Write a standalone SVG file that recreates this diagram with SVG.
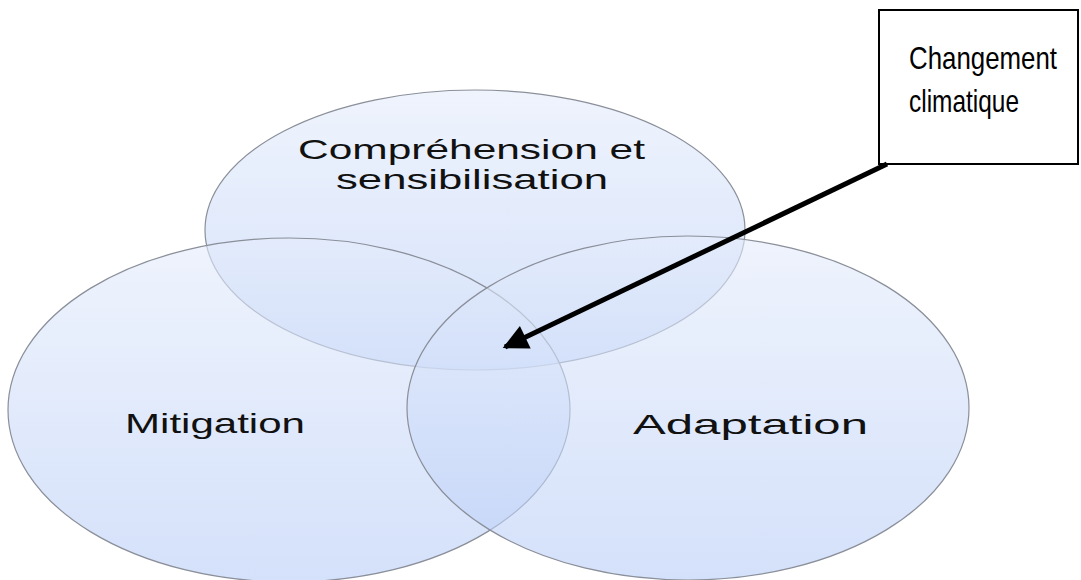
<svg xmlns="http://www.w3.org/2000/svg" width="1081" height="580" viewBox="0 0 1081 580">
<style>
.venn{stroke:#8a8f99;stroke-width:1.2;fill-opacity:0.6}
.lbl{font-family:"Liberation Sans",Arial,sans-serif;font-size:28px;fill:#111}
.box{fill:#fff;stroke:#000;stroke-width:2}
.btxt{font-family:"Liberation Sans Narrow","Liberation Sans",sans-serif;font-size:27px;fill:#000}
</style>
<defs>
<linearGradient id="g" x1="0" y1="0" x2="0" y2="1">
<stop offset="0" stop-color="#e4ecfb"/>
<stop offset="1" stop-color="#b8cdf7"/>
</linearGradient>
<marker id="ah" viewBox="0 0 10 10" refX="9" refY="5" markerWidth="5.5" markerHeight="5" orient="auto" markerUnits="strokeWidth">
<path d="M0,0 L10,5 L0,10 z" fill="#000"/>
</marker>
</defs>
<rect width="1081" height="580" fill="#fff"/>
<g id="node-comprehension">
<ellipse class="venn" cx="475" cy="230" rx="270" ry="140" fill="url(#g)"/>
</g>
<g id="node-mitigation">
<ellipse class="venn" cx="289" cy="410" rx="281" ry="172" fill="url(#g)"/>
</g>
<g id="node-adaptation">
<ellipse class="venn" cx="688" cy="408" rx="281" ry="172" fill="url(#g)"/>
</g>
<g id="labels">
<text class="lbl" x="298" y="159" textLength="347" lengthAdjust="spacingAndGlyphs">Compréhension et</text>
<text class="lbl" x="336" y="189" textLength="272" lengthAdjust="spacingAndGlyphs">sensibilisation</text>
<text class="lbl" x="125" y="433" textLength="180" lengthAdjust="spacingAndGlyphs">Mitigation</text>
<text class="lbl" x="633" y="434" textLength="235" lengthAdjust="spacingAndGlyphs">Adaptation</text>
</g>
<g id="node-changement">
<rect class="box" x="879" y="10" width="199" height="154"/>
<g transform="translate(909,69) scale(1,1.15)">
<text class="btxt" x="0" y="0" textLength="148" lengthAdjust="spacingAndGlyphs">Changement</text>
</g>
<g transform="translate(909,112) scale(1,1.15)">
<text class="btxt" x="0" y="0" textLength="110" lengthAdjust="spacingAndGlyphs">climatique</text>
</g>
</g>
<g id="connectors">
<line x1="887" y1="164" x2="505" y2="347" stroke="#000" stroke-width="5" marker-end="url(#ah)"/>
</g>
</svg>
